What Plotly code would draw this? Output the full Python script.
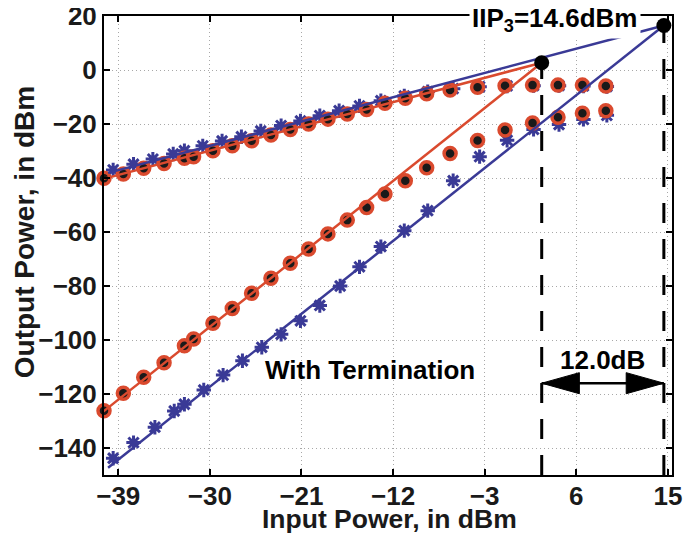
import plotly.graph_objects as go

# ---------------- data ----------------
red_x = [-40.4, -38.5, -36.5, -34.5, -32.5, -31.6, -29.7, -27.8, -25.9, -24.0, -22.1, -20.3,
         -18.4, -16.5, -14.6, -12.8, -10.8, -8.7, -6.4, -3.7, -1.0, 1.7, 4.2, 6.6, 8.9]
red_fund = [-40.1, -38.5, -36.4, -34.6, -32.7, -32.1, -29.9, -28.1, -26.2, -24.1, -22.0, -20.0,
            -18.2, -16.3, -14.6, -12.3, -10.5, -8.8, -7.4, -6.4, -5.8, -5.6, -5.6, -5.6, -5.9]
red_im3 = [-126.2, -119.7, -113.8, -108.4, -102.1, -99.6, -93.8, -88.3, -82.7, -77.1, -71.6, -66.3,
           -60.7, -55.6, -50.9, -45.9, -41.0, -36.2, -30.9, -26.1, -22.2, -19.6, -17.5, -16.0, -15.1]

blue_fund_x = [-39.5, -37.5, -35.6, -33.6, -32.5, -30.7, -28.8, -26.9, -25.0, -23.0, -21.1, -19.2,
               -17.3, -15.3, -13.2, -10.9, -8.6, -6.1, -3.5, -0.8, 1.8, 4.3, 6.7, 9.0]
blue_fund = [-37.0, -34.9, -33.0, -31.1, -29.9, -28.1, -26.3, -24.7, -22.6, -20.6, -18.9, -16.9,
             -15.1, -13.3, -11.4, -9.6, -8.0, -6.9, -6.2, -5.9, -5.8, -5.8, -5.9, -6.1]
blue_im3_x = [-39.5, -37.5, -35.4, -33.5, -32.5, -30.6, -28.7, -26.8, -24.9, -23.0, -21.1, -19.2,
              -17.2, -15.3, -13.2, -10.9, -8.6, -6.1, -3.5, -0.8, 1.8, 4.3, 6.7, 9.0]
blue_im3 = [-143.8, -138.0, -132.3, -126.3, -123.8, -118.5, -113.0, -107.7, -102.7, -97.9, -92.9, -87.2,
            -80.0, -72.9, -65.4, -59.5, -52.1, -41.0, -32.1, -26.0, -22.0, -20.2, -18.3, -16.8]

# extrapolated fit lines (start input, intercept input) and their outputs
red_fit_x = [-40.5, 2.6]
red_fit_fund = [-40.4, 2.7]
red_fit_im3 = [-126.6, 2.7]
blue_fit_x = [-40.0, 14.6]
blue_fit_fund = [-38.1, 16.5]
blue_fit_im3 = [-147.3, 16.5]

iip3_red = 2.6
iip3_blue = 14.6
oip3_red = 2.7
oip3_blue = 16.5
delta_label = "12.0dB"
iip3_label = "IIP<sub>3</sub>=14.6dBm"
note_label = "With Termination"
x_title = "Input Power, in dBm"
y_title = "Output Power, in dBm"

x_ticks = [-39, -30, -21, -12, -3, 6, 15]
y_ticks = [-140, -120, -100, -80, -60, -40, -20, 0, 20]

# ---------------- style ----------------
RED = "#da4a2e"
BLUE = "#3a3a96"
DOT = "#1a1a1a"
TXT = "#1a1a1a"
FONT = "Liberation Sans, Arial, sans-serif"
y_bottom = -150
arrow_y = -116
head_len = 3.7   # dB along x
head_half = 3.9  # dB along y

fig = go.Figure()

# blue asterisks
for xs, ys in ((blue_fund_x, blue_fund), (blue_im3_x, blue_im3)):
    fig.add_trace(go.Scatter(x=xs, y=ys, mode="markers", cliponaxis=False,
                             marker=dict(symbol="asterisk-open", size=12, color=BLUE,
                                         line=dict(color=BLUE, width=3)), showlegend=False))
# red circles with black centre
for ys in (red_fund, red_im3):
    fig.add_trace(go.Scatter(x=red_x, y=ys, mode="markers", cliponaxis=False,
                             marker=dict(symbol="circle", size=12, color=DOT,
                                         line=dict(color=RED, width=3.5)), showlegend=False))

# fit lines
for xs, ys, c in ((red_fit_x, red_fit_fund, RED), (red_fit_x, red_fit_im3, RED),
                  (blue_fit_x, blue_fit_fund, BLUE), (blue_fit_x, blue_fit_im3, BLUE)):
    fig.add_trace(go.Scatter(x=xs, y=ys, mode="lines", line=dict(color=c, width=2.5),
                             showlegend=False))

# dashed verticals
for xv, yv in ((iip3_red, oip3_red), (iip3_blue, oip3_blue)):
    fig.add_trace(go.Scatter(x=[xv, xv], y=[y_bottom, yv], mode="lines",
                             line=dict(color="black", width=3, dash="20px,16px"),
                             showlegend=False))

# intercept dots
fig.add_trace(go.Scatter(x=[iip3_red, iip3_blue], y=[oip3_red, oip3_blue], mode="markers",
                         cliponaxis=False,
                         marker=dict(symbol="circle", size=15, color="black"), showlegend=False))

# double arrow
fig.add_trace(go.Scatter(x=[iip3_red, iip3_blue], y=[arrow_y, arrow_y], mode="lines",
                         line=dict(color="black", width=2.5), showlegend=False))
fig.add_trace(go.Scatter(
    x=[iip3_red, iip3_red + head_len, iip3_red + head_len, iip3_red],
    y=[arrow_y, arrow_y + head_half, arrow_y - head_half, arrow_y],
    mode="lines", fill="toself", fillcolor="black", line=dict(color="black", width=1),
    showlegend=False))
fig.add_trace(go.Scatter(
    x=[iip3_blue, iip3_blue - head_len, iip3_blue - head_len, iip3_blue],
    y=[arrow_y, arrow_y + head_half, arrow_y - head_half, arrow_y],
    mode="lines", fill="toself", fillcolor="black", line=dict(color="black", width=1),
    showlegend=False))

fig.add_annotation(x=(iip3_red + iip3_blue) / 2, y=-107.4, text=delta_label, showarrow=False,
                   font=dict(family=FONT, size=26, color="black", weight="bold"))
fig.add_annotation(x=-14.3, y=-111.1, text=note_label, showarrow=False,
                   font=dict(family=FONT, size=26, color="black", weight="bold"))
fig.add_annotation(x=3.86, y=18.6, text=iip3_label, showarrow=False, bgcolor="white",
                   borderpad=2, xanchor="center", yanchor="middle",
                   font=dict(family=FONT, size=26, color="black", weight="bold"))

# axis titles
fig.add_annotation(xref="paper", yref="paper", x=0.503, y=-0.096, text=x_title,
                   showarrow=False, xanchor="center", yanchor="middle",
                   font=dict(family=FONT, size=26.5, color=TXT, weight="bold"))
fig.add_annotation(xref="paper", yref="paper", x=-0.14, y=0.53, text=y_title,
                   showarrow=False, xanchor="center", yanchor="middle", textangle=-90,
                   font=dict(family=FONT, size=28, color=TXT, weight="bold"))

axis_common = dict(showline=True, linecolor="black", linewidth=2, mirror="allticks",
                   ticks="inside", ticklen=6, tickwidth=1.5, tickcolor="black",
                   showgrid=True, gridcolor="#a8a8a8", gridwidth=1, griddash="1px,3px",
                   zeroline=False, automargin=False, ticklabeloverflow="allow",
                   tickfont=dict(family=FONT, size=26, color=TXT, weight="bold"))

fig.update_xaxes(range=[-40.4, 15.4], tickvals=x_ticks, ticklabelstandoff=-3, **axis_common)
fig.update_yaxes(range=[y_bottom, 20], tickvals=y_ticks, **axis_common)

# page body adds an 8px offset, so the figure is 8px smaller on each axis
fig.update_layout(width=691, height=526, plot_bgcolor="white", paper_bgcolor="white",
                  margin=dict(l=96, r=26.5, t=8, b=59), showlegend=False)

fig.write_html("out.html")
